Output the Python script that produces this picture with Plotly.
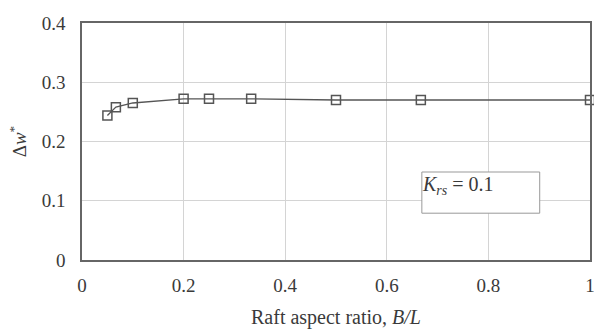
import plotly.graph_objects as go

aspect_ratio = [0.05, 0.0667, 0.1, 0.2, 0.25, 0.333, 0.5, 0.667, 1.0]
delta_w = [0.244, 0.258, 0.265, 0.272, 0.272, 0.272, 0.270, 0.270, 0.270]
x_ticks = [0, 0.2, 0.4, 0.6, 0.8, 1]
x_tick_labels = ["0", "0.2", "0.4", "0.6", "0.8", "1"]
y_ticks = [0, 0.1, 0.2, 0.3, 0.4]
y_tick_labels = ["0", "0.1", "0.2", "0.3", "0.4"]

font_family = "Liberation Serif"
ink = "#555555"
text_col = "#3a3a3a"

fig = go.Figure()
fig.add_trace(go.Scatter(
    x=aspect_ratio, y=delta_w, mode="lines+markers",
    line=dict(color=ink, width=1.3),
    marker=dict(symbol="square-open", size=9, color=ink, line=dict(width=1.5, color=ink)),
    cliponaxis=False, showlegend=False,
))

fig.update_layout(
    width=594, height=331,
    margin=dict(l=82, r=4, t=23, b=71, autoexpand=False),
    paper_bgcolor="white", plot_bgcolor="white",
    font=dict(family=font_family, size=18, color=text_col),
    xaxis=dict(
        range=[0, 1], tickvals=x_ticks, ticktext=x_tick_labels,
        showgrid=True, gridcolor="#d4d4d4", gridwidth=1,
        showline=True, linecolor="#666666", linewidth=1.5, mirror=True,
        ticks="", zeroline=False, automargin=False, ticklabeloverflow="allow",
        ticklabelstandoff=7,
        tickfont=dict(family=font_family, size=19, color=text_col),
        title=dict(text="Raft aspect ratio, <i>B/L</i>", font=dict(family=font_family, size=20, color=text_col), standoff=15),
    ),
    yaxis=dict(
        range=[0, 0.4], tickvals=y_ticks, ticktext=y_tick_labels,
        showgrid=True, gridcolor="#d4d4d4", gridwidth=1,
        showline=True, linecolor="#666666", linewidth=1.5, mirror=True,
        ticks="", zeroline=False, automargin=False, ticklabeloverflow="allow",
        ticklabelstandoff=11,
        tickfont=dict(family=font_family, size=19, color=text_col),
        title=dict(text="Δ<i>w</i><sup>*</sup>", font=dict(family=font_family, size=19, color=text_col), standoff=10),
    ),
)

fig.add_shape(type="rect", xref="x", yref="y",
              x0=0.669, x1=0.901, y0=0.079, y1=0.1485,
              line=dict(color="#999999", width=1), fillcolor="white", layer="above")
fig.add_annotation(xref="x", yref="y", x=0.666, y=0.126, xanchor="left", yanchor="middle",
                   text="<i>K<sub>rs</sub></i> = 0.1", showarrow=False,
                   font=dict(size=20, color=text_col, family=font_family))

fig.write_html("out.html", config={"displayModeBar": False},
               post_script="document.body.style.margin='0';")
